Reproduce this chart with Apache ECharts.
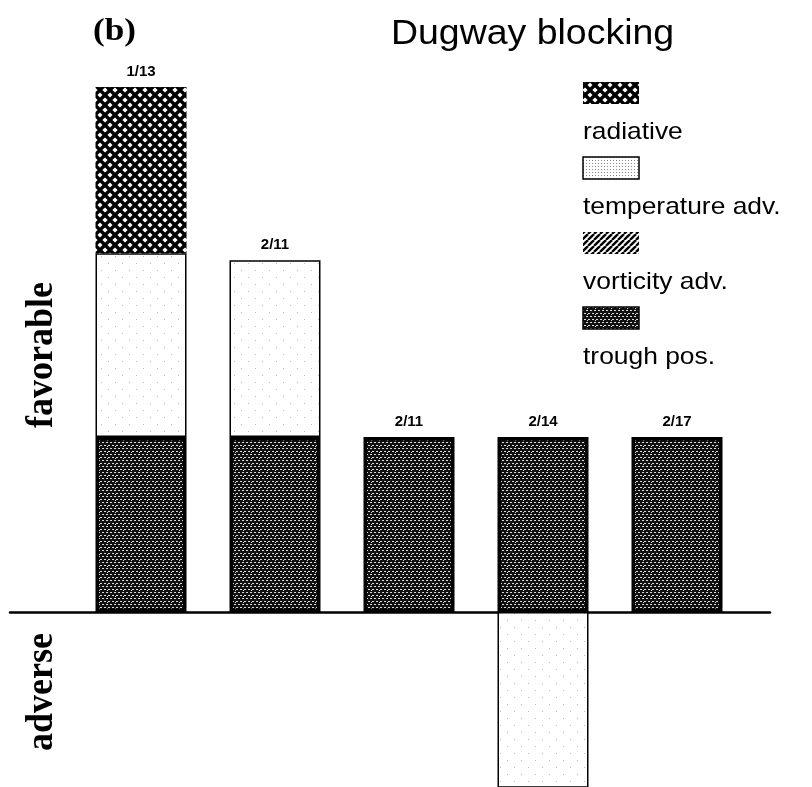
<!DOCTYPE html>
<html>
<head>
<meta charset="utf-8">
<script src="https://cdn.jsdelivr.net/npm/echarts@6/dist/echarts.min.js"></script>
<style>
  html, body { margin: 0; padding: 0; background: #fff; }
  #chart { width: 812px; height: 787px; }
</style>
</head>
<body>
<div id="chart"></div>
<script>
// Cases (dates) and the contribution of each factor, in "units" of effect.
// Positive = favorable for blocking, negative = adverse.
const categories = ['1/13', '2/11', '2/11', '2/14', '2/17'];
const troughPos = [1, 1, 1, 1, 1];
const temperatureAdv = [1.05, 1.01, null, -1.02, null];
const vorticityAdv = [null, null, null, null, null];
const radiative = [0.97, null, null, null, null];

const seriesNames = ['trough pos.', 'temperature adv.', 'vorticity adv.', 'radiative'];
const legendOrder = ['radiative', 'temperature adv.', 'vorticity adv.', 'trough pos.'];

// ---- fill textures -------------------------------------------------------
function makePattern(w, h, draw) {
  const c = document.createElement('canvas');
  c.width = w; c.height = h;
  const ctx = c.getContext('2d');
  draw(ctx, w, h);
  return { image: c, repeat: 'repeat' };
}

// diamond lattice (cross-hatch)
const crossHatch = makePattern(10, 10, (ctx, w, h) => {
  ctx.fillStyle = '#fff'; ctx.fillRect(0, 0, w, h);
  ctx.strokeStyle = '#000'; ctx.lineWidth = 3.4;
  for (let k = -1; k <= 1; k++) {
    ctx.beginPath(); ctx.moveTo(k * w, 0); ctx.lineTo(k * w + w, h); ctx.stroke();
    ctx.beginPath(); ctx.moveTo(k * w + w, 0); ctx.lineTo(k * w, h); ctx.stroke();
  }
});

// sparse light stipple
const stippleSparse = makePattern(14, 14, (ctx, w, h) => {
  ctx.fillStyle = '#fff'; ctx.fillRect(0, 0, w, h);
  ctx.fillStyle = '#bbb';
  ctx.fillRect(3, 4, 1, 1);
  ctx.fillRect(10, 11, 1, 1);
});
const stippleDense = makePattern(3, 3, (ctx, w, h) => {
  ctx.fillStyle = '#fff'; ctx.fillRect(0, 0, w, h);
  ctx.fillStyle = '#888';
  ctx.fillRect(1, 1, 1, 1);
});

// forward diagonal hatch
const diagHatch = makePattern(6, 6, (ctx, w, h) => {
  ctx.fillStyle = '#fff'; ctx.fillRect(0, 0, w, h);
  ctx.strokeStyle = '#000'; ctx.lineWidth = 2.4;
  for (let k = -1; k <= 1; k++) {
    ctx.beginPath(); ctx.moveTo(k * w, h); ctx.lineTo(k * w + w, 0); ctx.stroke();
  }
});

// dark brick screen
const brick = makePattern(8, 6, (ctx, w, h) => {
  ctx.fillStyle = '#111'; ctx.fillRect(0, 0, w, h);
  ctx.fillStyle = 'rgba(255,255,255,0.85)';
  ctx.fillRect(0, 1, 2, 1);
  ctx.fillRect(4, 1, 2, 1);
  ctx.fillRect(2, 4, 2, 1);
  ctx.fillRect(6, 4, 2, 1);
  ctx.fillRect(3, 2, 1, 1);
});

const fills = {
  'trough pos.': { color: brick, borderColor: '#000', borderWidth: 3.5 },
  'temperature adv.': { color: stippleSparse, borderColor: '#000', borderWidth: 1.5 },
  'vorticity adv.': { color: diagHatch, borderColor: '#000', borderWidth: 0 },
  'radiative': { color: crossHatch, borderColor: '#000', borderWidth: 0 }
};
const legendFills = {
  'radiative': { fill: crossHatch, stroke: null },
  'temperature adv.': { fill: stippleDense, stroke: '#000' },
  'vorticity adv.': { fill: diagHatch, stroke: null },
  'trough pos.': { fill: brick, stroke: '#000' }
};

// ---- stacking helpers ----------------------------------------------------
const stackValues = [troughPos, temperatureAdv, vorticityAdv, radiative];
function topSegment(i) {
  let top = -1;
  stackValues.forEach((arr, k) => { if (arr[i] != null && arr[i] > 0) top = k; });
  return top;
}
function buildData(arr, k) {
  return arr.map((v, i) => ({
    value: v == null ? '-' : v,
    label: { show: topSegment(i) === k, formatter: categories[i] }
  }));
}

const barSeries = seriesNames.map((name, k) => ({
  name,
  type: 'bar',
  stack: 'effect',
  xAxisIndex: 0,
  yAxisIndex: 0,
  barWidth: 91,
  clip: true,
  data: buildData(stackValues[k], k),
  itemStyle: fills[name],
  label: {
    position: 'top',
    distance: 8,
    color: '#000',
    fontFamily: 'Liberation Sans',
    fontWeight: 'bold',
    fontSize: 15
  },
  emphasis: { disabled: true },
  silent: true
}));

// ---- legend and annotations -----------------------------------------------
const graphics = [];
legendOrder.forEach((name, k) => {
  const top = 82 + k * 75;
  graphics.push({
    type: 'rect',
    shape: { x: 583, y: top, width: 56, height: 22 },
    style: { fill: legendFills[name].fill, stroke: legendFills[name].stroke, lineWidth: 1.5 },
    silent: true
  });
  graphics.push({
    type: 'text',
    x: 583, y: top + 50,
    scaleX: 1.1,
    style: {
      text: name, fill: '#000',
      font: '500 24px "Liberation Sans"',
      textAlign: 'left', textVerticalAlign: 'middle'
    },
    silent: true
  });
});
graphics.push({
  type: 'text', x: 391, y: 34, scaleX: 1.07,
  style: { text: 'Dugway blocking', fill: '#000', font: '35px "Liberation Sans"', textAlign: 'left', textVerticalAlign: 'middle' },
  silent: true
});
graphics.push({
  type: 'text', x: 93, y: 32, scaleX: 1.1,
  style: { text: '(b)', fill: '#000', font: 'bold 32px "Liberation Serif"', textAlign: 'left', textVerticalAlign: 'middle' },
  silent: true
});
graphics.push({
  type: 'text', x: 42, y: 355, rotation: Math.PI / 2, scaleY: 1.05,
  style: { text: 'favorable', fill: '#000', font: 'bold 36px "Liberation Serif"', textAlign: 'center', textVerticalAlign: 'middle' },
  silent: true
});
graphics.push({
  type: 'text', x: 42, y: 692, rotation: Math.PI / 2, scaleY: 1.05,
  style: { text: 'adverse', fill: '#000', font: 'bold 36px "Liberation Serif"', textAlign: 'center', textVerticalAlign: 'middle' },
  silent: true
});

const chart = echarts.init(document.getElementById('chart'), null, { renderer: 'canvas' });
chart.setOption({
  animation: false,
  backgroundColor: '#fff',
  grid: [
    { left: 74, right: 68, top: 87, bottom: -2, containLabel: false },
    { left: 10, right: 42, top: 87, bottom: -2, containLabel: false }
  ],
  xAxis: [
    {
      type: 'category', gridIndex: 0, data: categories,
      axisLine: { show: false }, axisTick: { show: false }, axisLabel: { show: false }
    },
    {
      type: 'value', gridIndex: 1, min: 0, max: 1,
      axisLine: { show: true, onZero: true, lineStyle: { color: '#000', width: 2.5 } },
      axisTick: { show: false }, axisLabel: { show: false }, splitLine: { show: false }
    }
  ],
  yAxis: [
    {
      type: 'value', gridIndex: 0, min: -1, max: 3,
      axisLine: { show: false }, axisTick: { show: false }, axisLabel: { show: false }, splitLine: { show: false }
    },
    {
      type: 'value', gridIndex: 1, min: -1, max: 3,
      axisLine: { show: false }, axisTick: { show: false }, axisLabel: { show: false }, splitLine: { show: false }
    }
  ],
  series: barSeries,
  graphic: graphics
});
</script>
</body>
</html>
